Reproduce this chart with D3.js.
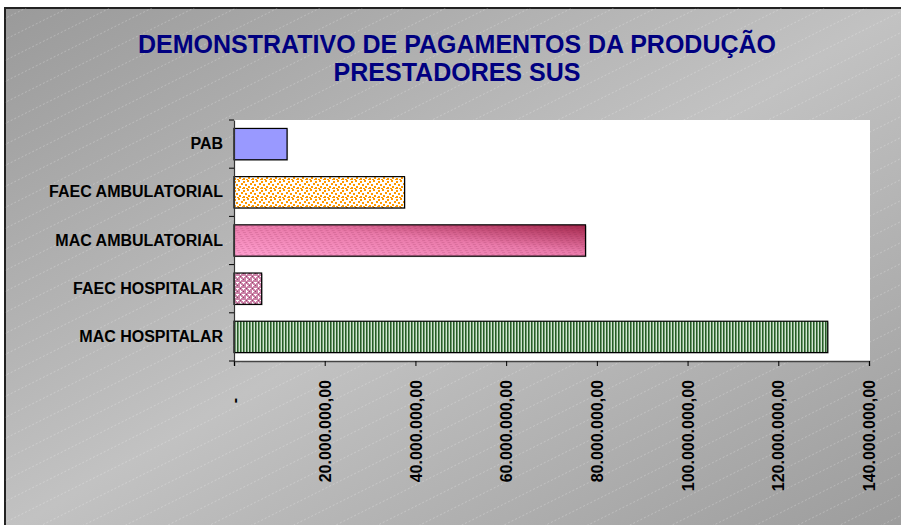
<!DOCTYPE html>
<html>
<head>
<meta charset="utf-8">
<script src="https://cdn.jsdelivr.net/npm/d3@7"></script>
<style>
  body { margin: 0; background: #fff; }
  svg { display: block; font-family: Arial, "Liberation Sans", sans-serif; }
</style>
</head>
<body>
<svg width="901" height="525"></svg>
<script>
// data
var categories = ["PAB", "FAEC AMBULATORIAL", "MAC AMBULATORIAL", "FAEC HOSPITALAR", "MAC HOSPITALAR"];
var values = [11700000, 37600000, 77500000, 6100000, 130900000];
var tickValues = [0, 20000000, 40000000, 60000000, 80000000, 100000000, 120000000, 140000000];
var titleLines = ["DEMONSTRATIVO DE PAGAMENTOS DA PRODUÇÃO", "PRESTADORES SUS"];

var svg = d3.select("svg"),
    width = 901,
    height = 525;

var plot = { left: 234, right: 869, top: 120, bottom: 361 };

var defs = svg.append("defs");

// background gradient
var bg = defs.append("linearGradient").attr("id", "bgGrad")
    .attr("x1", 0).attr("y1", 0).attr("x2", 1).attr("y2", 1);
bg.append("stop").attr("offset", 0).attr("stop-color", "#9a9a9a");
bg.append("stop").attr("offset", 0.5).attr("stop-color", "#c2c2c2");
bg.append("stop").attr("offset", 1).attr("stop-color", "#9c9c9c");

defs.append("clipPath").attr("id", "bgClip")
  .append("rect").attr("x", 5).attr("y", 8).attr("width", width).attr("height", height);

// FAEC AMBULATORIAL - orange confetti
var conf = defs.append("pattern").attr("id", "confetti")
    .attr("patternUnits", "userSpaceOnUse").attr("width", 9).attr("height", 9);
conf.append("rect").attr("width", 9).attr("height", 9).attr("fill", "#fff");
[[0, 1], [4, 0], [7, 3], [2, 4], [5, 6], [0, 7], [8, 8], [3, 8]].forEach(function(p) {
  conf.append("rect").attr("x", p[0]).attr("y", p[1]).attr("width", 2).attr("height", 2).attr("fill", "#ff9900");
});

// MAC AMBULATORIAL - pink gradient with diagonal texture
var pg = defs.append("linearGradient").attr("id", "pinkGrad")
    .attr("x1", 0).attr("y1", 1).attr("x2", 1).attr("y2", 0);
pg.append("stop").attr("offset", 0).attr("stop-color", "#ff9fcf");
pg.append("stop").attr("offset", 0.55).attr("stop-color", "#ea7aaa");
pg.append("stop").attr("offset", 1).attr("stop-color", "#a3264a");
var wave = defs.append("pattern").attr("id", "wave")
    .attr("patternUnits", "userSpaceOnUse").attr("width", 6).attr("height", 4)
    .attr("patternTransform", "skewX(-40)");
wave.append("rect").attr("width", 3).attr("height", 1).attr("fill", "#7a1a40").attr("opacity", 0.18);
wave.append("rect").attr("x", 3).attr("y", 2).attr("width", 3).attr("height", 1).attr("fill", "#7a1a40").attr("opacity", 0.18);

// FAEC HOSPITALAR - mauve with white crosses
var cross = defs.append("pattern").attr("id", "cross")
    .attr("patternUnits", "userSpaceOnUse").attr("width", 6).attr("height", 6);
cross.append("rect").attr("width", 6).attr("height", 6).attr("fill", "#cc82a8");
cross.append("rect").attr("x", 0).attr("y", 0).attr("width", 1).attr("height", 1).attr("fill", "#8a4a66");
cross.append("rect").attr("x", 3).attr("y", 3).attr("width", 1).attr("height", 1).attr("fill", "#8a4a66");
cross.append("rect").attr("x", 2).attr("y", 0).attr("width", 3).attr("height", 1).attr("fill", "#fff");
cross.append("rect").attr("x", 3).attr("y", -1).attr("width", 1).attr("height", 3).attr("fill", "#fff");
cross.append("rect").attr("x", -1).attr("y", 3).attr("width", 3).attr("height", 1).attr("fill", "#fff");
cross.append("rect").attr("x", 0).attr("y", 2).attr("width", 1).attr("height", 3).attr("fill", "#fff");

// MAC HOSPITALAR - green vertical stripes
var stripe = defs.append("pattern").attr("id", "stripe")
    .attr("patternUnits", "userSpaceOnUse").attr("width", 3).attr("height", 4);
stripe.append("rect").attr("width", 3).attr("height", 4).attr("fill", "#d2e4d2");
stripe.append("rect").attr("width", 1).attr("height", 4).attr("fill", "#285a28");
stripe.append("rect").attr("x", 1).attr("width", 1).attr("height", 4).attr("fill", "#6e9e6e");

var barFill = {
  "PAB": ["#9999ff"],
  "FAEC AMBULATORIAL": ["url(#confetti)"],
  "MAC AMBULATORIAL": ["url(#pinkGrad)", "url(#wave)"],
  "FAEC HOSPITALAR": ["url(#cross)"],
  "MAC HOSPITALAR": ["url(#stripe)"]
};

// chart area background
svg.append("rect")
    .attr("x", 5).attr("y", 8).attr("width", width).attr("height", height)
    .attr("fill", "url(#bgGrad)")
    .attr("stroke", "#222").attr("stroke-width", 2);

svg.append("g").attr("clip-path", "url(#bgClip)")
  .selectAll("line")
  .data(d3.range(-20, 80))
  .join("line")
    .attr("x1", 0).attr("y1", d => d * 21)
    .attr("x2", width).attr("y2", d => d * 21 - width * 0.5)
    .attr("stroke", "#fff").attr("stroke-opacity", 0.35)
    .attr("stroke-width", 0.7).attr("stroke-dasharray", "2,2");

// title
svg.append("text")
    .attr("x", 457).attr("y", 53)
    .attr("text-anchor", "middle")
    .attr("fill", "#000080")
    .attr("font-weight", "bold")
    .attr("font-size", 25)
  .selectAll("tspan")
  .data(titleLines)
  .join("tspan")
    .attr("x", 457)
    .attr("dy", (d, i) => i ? 28 : 0)
    .text(d => d);

// plot area
svg.append("rect")
    .attr("x", plot.left).attr("y", plot.top)
    .attr("width", 870 - plot.left).attr("height", plot.bottom - plot.top)
    .attr("fill", "#fff");

var x = d3.scaleLinear().domain([0, 140000000]).range([plot.left, plot.right]);
var y = d3.scaleBand().domain(categories).range([plot.top, plot.bottom])
    .paddingInner(0.35).paddingOuter(0.175);

var ptBR = d3.formatLocale({ decimal: ",", thousands: ".", grouping: [3], currency: ["R$", ""] });
var fmt = ptBR.format(",.2f");

// bars
var bars = svg.append("g").selectAll("g")
    .data(categories.map((c, i) => ({ cat: c, v: values[i] })))
    .join("g");

bars.append("rect")
    .attr("x", x(0) + 1).attr("y", d => y(d.cat) + 1)
    .attr("width", d => x(d.v) - x(0)).attr("height", y.bandwidth())
    .attr("fill", "#9a9a9a").attr("opacity", 0.6);

bars.each(function(d) {
  var g = d3.select(this);
  barFill[d.cat].forEach(function(f, k, arr) {
    g.append("rect")
      .attr("x", x(0)).attr("y", y(d.cat))
      .attr("width", x(d.v) - x(0)).attr("height", y.bandwidth())
      .attr("fill", f)
      .attr("stroke", k === arr.length - 1 ? "#000" : "none")
      .attr("stroke-width", 1.2);
  });
});

// x axis
var xAxis = svg.append("g")
    .attr("transform", "translate(0," + plot.bottom + ")")
    .call(d3.axisBottom(x).tickValues(tickValues).tickSize(5)
      .tickFormat(d => d === 0 ? "-" : fmt(d)));
xAxis.select(".domain").attr("stroke", "#444").attr("stroke-width", 1.5);
xAxis.selectAll(".tick line").attr("stroke", "#000");
xAxis.selectAll(".tick text")
    .attr("transform", "rotate(-90)")
    .attr("text-anchor", "end")
    .attr("x", d => d === 0 ? -37 : -19)
    .attr("y", 0)
    .attr("dy", "0.35em")
    .attr("fill", "#000")
    .attr("font-weight", "bold")
    .attr("font-size", 16)
    .attr("font-family", "Arial, 'Liberation Sans', sans-serif");

// y axis
var yAxis = svg.append("g")
    .attr("transform", "translate(" + plot.left + ",0)")
    .call(d3.axisLeft(y).tickSize(0).tickPadding(11));
yAxis.select(".domain").attr("stroke", "#333").attr("stroke-width", 1.2);
yAxis.selectAll(".tick text")
    .attr("fill", "#000")
    .attr("font-weight", "bold")
    .attr("font-size", 16)
    .attr("font-family", "Arial, 'Liberation Sans', sans-serif");

var bounds = categories.map(c => y(c) - y.step() * y.paddingInner() / 2);
bounds.push(plot.bottom);
yAxis.selectAll(".bound")
  .data(bounds)
  .join("line")
    .attr("class", "bound")
    .attr("x1", -5).attr("x2", 0)
    .attr("y1", d => d).attr("y2", d => d)
    .attr("stroke", "#000");
</script>
</body>
</html>
